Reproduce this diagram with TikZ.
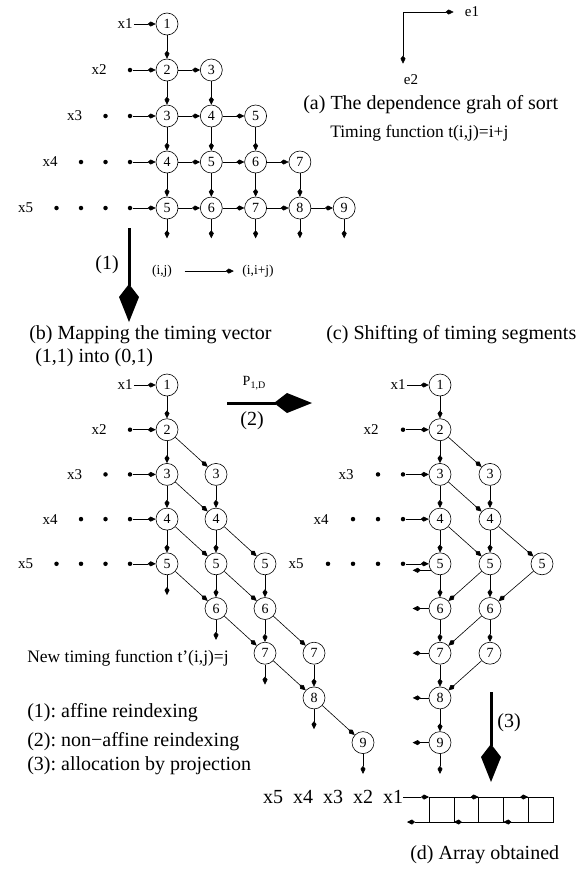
\documentclass[tikz,border=0pt]{standalone}
\usepackage{fontspec}
\setmainfont{Liberation Serif}
\usepackage{tikz}
\usetikzlibrary{arrows.meta,positioning,calc}

\newcommand{\fsz}[1]{\fontsize{#1}{#1}\selectfont}
\frenchspacing

\begin{document}
\begin{tikzpicture}[x=1pt,y=-1pt,line width=0.6pt,
    vtx/.style={draw,circle,minimum size=22pt,inner sep=0pt,font=\fsz{14}},
    xlab/.style={inner sep=1pt,font=\fsz{15}},
    dot/.style={circle,fill,inner sep=0pt,minimum size=4.5pt},
    arr/.style={-{Kite[length=8pt,width=5pt,inset=3pt]}},
    bigarr/.style={line width=3pt,-{Kite[length=38pt,width=20pt,inset=13pt]}},
    captext/.style={font=\fsz{20},inner sep=0pt},
    note/.style={font=\fsz{17.5},inner sep=0pt},
    leg/.style={font=\fsz{20},inner sep=0pt},
    cell/.style={draw,minimum width=24.8pt,minimum height=25pt,inner sep=0pt,outer sep=0pt}]
  \useasboundingbox (0,0) rectangle (577,870);

  % (a) dependence graph, row r = x_r, value r+c-1
  \foreach \r/\y in {1/24,2/70,3/116,4/162,5/208}{
    \foreach \c in {1,...,\r}{
      \pgfmathtruncatemacro{\v}{\r+\c-1}
      \node[vtx] (a\r\c) at ({167+44.3*(\c-1)},\y) {\v};
    }
  }
  \foreach \r in {1,...,4}{
    \pgfmathtruncatemacro{\n}{\r+1}
    \foreach \c in {1,...,\r}
      \draw[arr] (a\r\c) -- (a\n\c);
  }
  \foreach \r in {2,...,5}{
    \foreach \c in {2,...,\r}{
      \pgfmathtruncatemacro{\p}{\c-1}
      \draw[arr] (a\r\p) -- (a\r\c);
    }
  }
  \foreach \c in {1,...,5}
    \draw[arr] (a5\c.south) -- ++(0,19);
  % inputs x1..x5
  \node[xlab] (ax1) at (125,24) {x1};
  \draw[arr] (ax1) -- (a11);
  \foreach \r/\y in {2/70,3/116,4/162,5/208}{
    \node[xlab] (ax\r) at ({99-24.5*(\r-2)},\y) {x\r};
    \foreach \k in {2,...,\r}
      \node[dot] (ad\r\k) at ({130-24.5*(\k-2)},\y) {};
    \draw[arr] (ad\r2) -- (a\r1);
  }

  % axes
  \coordinate (orig) at (403,12);
  \node[xlab] (e1) at (472,12) {e1};
  \node[xlab] (e2) at (411,80) {e2};
  \draw[arr,shorten >=10pt] (orig) -- (e1.west |- orig);
  \draw[arr,shorten >=10pt] (orig) -- (orig |- e2.north);

  \node[captext,anchor=west] (capa) at (303,105) {(a) The dependence grah of sort};
  \node[note,anchor=west] (tfun) at (330,133) {Timing function t(i,j)=i+j};

  % mapping (1)
  \coordinate (m1a) at (129,228);
  \coordinate (m1b) at (129,322);
  \draw[bigarr] (m1a) -- (m1b);
  \node[leg] (m1) at (107,265) {(1)};
  \node[font=\fsz{13.5}] (ij) at (162,271) {(i,j)};
  \node[font=\fsz{13.5}] (iij) at (258,271) {(i,i+j)};
  \draw[arr,shorten <=9pt,shorten >=5pt] (ij) -- (iij);

  \node[captext,anchor=west] (capb) at (29,335) {(b) Mapping the timing vector};
  \node[captext,anchor=west] (capb2) at (35,358) {(1,1) into (0,1)};
  \node[captext,anchor=west] (capc) at (326,335) {(c) Shifting of timing segments};

  % (b) after affine reindexing (i,j) -> (i,i+j)
  \foreach \r in {1,...,5}{
    \foreach \c in {1,...,\r}{
      \pgfmathtruncatemacro{\v}{\r+\c-1}
      \node[vtx] (b\r\c) at ({167+49*(\c-1)},{385+44.7*(\v-1)}) {\v};
    }
  }
  \foreach \r in {1,...,4}{
    \pgfmathtruncatemacro{\n}{\r+1}
    \foreach \c in {1,...,\r}
      \draw[arr] (b\r\c) -- (b\n\c);
  }
  \foreach \r in {2,...,5}{
    \foreach \c in {2,...,\r}{
      \pgfmathtruncatemacro{\p}{\c-1}
      \draw[arr] (b\r\p) -- (b\r\c);
    }
  }
  \foreach \c in {1,...,5}
    \draw[arr] (b5\c.south) -- ++(0,20);
  \node[xlab] (bx1) at (125,385) {x1};
  \draw[arr] (bx1) -- (b11);
  \foreach \r in {2,...,5}{
    \pgfmathsetmacro{\y}{385+44.7*(\r-1)}
    \node[xlab] (bx\r) at ({99-24.5*(\r-2)},\y) {x\r};
    \foreach \k in {2,...,\r}
      \node[dot] (bd\r\k) at ({130-24.5*(\k-2)},\y) {};
    \draw[arr] (bd\r2) -- (b\r1);
  }

  % non-affine reindexing (2)
  \coordinate (m2a) at (227,403);
  \coordinate (m2b) at (312,403);
  \draw[bigarr] (m2a) -- (m2b);
  \node[font=\fsz{14}] (pld) at (254,383) {P\raisebox{-3pt}{\fsz{10}1,D}};
  \node[leg] (m2) at (252,421) {(2)};

  % (c) shifted segments
  \foreach \v in {1,...,9}
    \node[vtx] (s1\v) at (440,{385+44.7*(\v-1)}) {\v};
  \foreach \v in {3,...,7}
    \node[vtx] (s2\v) at (490,{385+44.7*(\v-1)}) {\v};
  \node[vtx] (s35) at (542,{385+44.7*4}) {5};
  \foreach \v [count=\n from 2] in {1,...,8}
    \draw[arr] (s1\v) -- (s1\n);
  \foreach \v [count=\n from 4] in {3,...,6}
    \draw[arr] (s2\v) -- (s2\n);
  \foreach \a/\b in {s12/s23,s13/s24,s14/s25,s24/s35,s25/s16,s35/s26,s26/s17,s27/s18}
    \draw[arr] (\a) -- (\b);
  \draw[arr] (s15.215) -- ++(-18,0);
  \foreach \v in {6,...,9}
    \draw[arr] (s1\v.west) -- ++(-16,0);
  \draw[arr] (s19.south) -- ++(0,20);
  \node[xlab] (sx1) at (398,385) {x1};
  \draw[arr] (sx1) -- (s11);
  \foreach \r in {2,...,5}{
    \pgfmathsetmacro{\y}{385+44.7*(\r-1)}
    \node[xlab] (sx\r) at ({371-25*(\r-2)},\y) {x\r};
    \foreach \k in {2,...,\r}
      \node[dot] (sd\r\k) at ({403-25*(\k-2)},\y) {};
    \draw[arr] (sd\r2) -- (s1\r);
  }

  \node[note,anchor=west] (tnew) at (27,658) {New timing function t'(i,j)=j};
  \node[leg,anchor=west] (l1) at (27,713) {(1): affine reindexing};
  \node[leg,anchor=west] (l2) at (27,742) {(2): non−affine reindexing};
  \node[leg,anchor=west] (l3) at (27,766) {(3): allocation by projection};

  % projection (3)
  \coordinate (m3a) at (491,692);
  \coordinate (m3b) at (491,782);
  \draw[bigarr] (m3a) -- (m3b);
  \node[leg] (m3) at (509,723) {(3)};

  % (d) array
  \foreach \n in {1,...,5}
    \node[cell] (q\n) at ({441.4+24.8*(\n-1)},809.5) {};
  \foreach \n [count=\i] in {5,4,3,2,1}
    \node[leg] (xx\n) at ({243+30*\i},797) {x\n};
  \coordinate (qout) at (407,822);
  \draw[arr] (xx1) -- (q1.north west);
  \draw[arr] (q2.north west) -- (q2.north east);
  \draw[arr] (q4.north west) -- (q4.north east);
  \draw[arr] (q1.south west) -- (qout);
  \draw[arr] (q2.south east) -- (q2.south west);
  \draw[arr] (q4.south east) -- (q4.south west);
  \node[captext,anchor=west] (capd) at (410,855) {(d) Array obtained};
\end{tikzpicture}
\end{document}
